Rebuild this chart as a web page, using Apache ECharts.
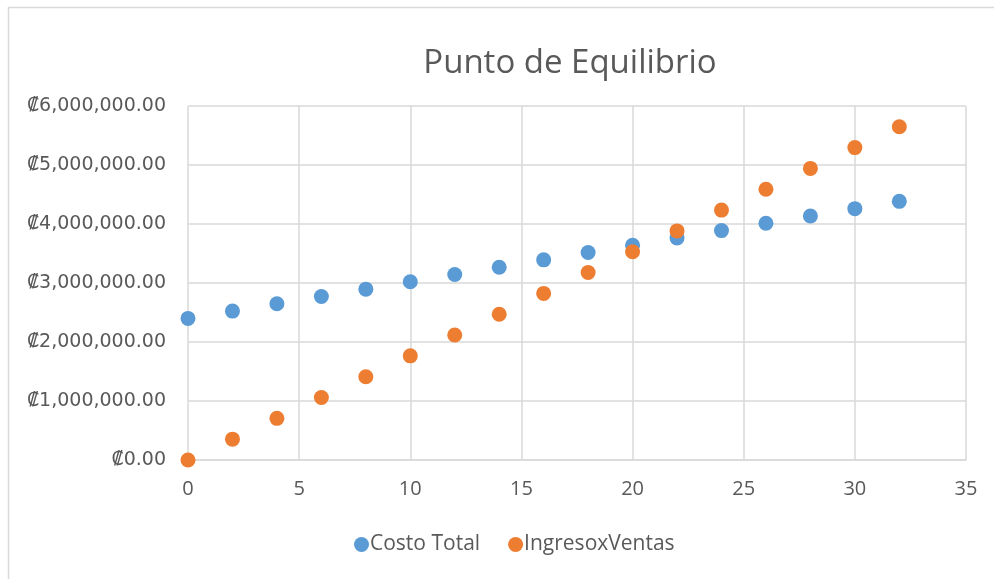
<!DOCTYPE html>
<html>
<head>
<meta charset="utf-8">
<title>Punto de Equilibrio</title>
<script src="https://cdn.jsdelivr.net/npm/echarts@6/dist/echarts.min.js"></script>
<style>
  html, body { margin: 0; padding: 0; background: #fff; }
  #chart { width: 994px; height: 579px; }
</style>
</head>
<body>
<div id="chart"></div>
<script>
// valores (unidades vs colones)
const unidades = [0, 2, 4, 6, 8, 10, 12, 14, 16, 18, 20, 22, 24, 26, 28, 30, 32]
const costoTotal = [2400000, 2524000, 2648000, 2772000, 2896000, 3020000, 3144000, 3268000, 3392000,
  3516000, 3640000, 3764000, 3888000, 4012000, 4136000, 4260000, 4384000]
const ingresosVentas = [0, 353000, 706000, 1059000, 1412000, 1765000, 2118000, 2471000, 2824000,
  3177000, 3530000, 3883000, 4236000, 4589000, 4942000, 5295000, 5648000]
const seriesNames = ['Costo Total', 'IngresoxVentas']

const gridColor = '#d9d9d9'
const textColor = '#595959'

function pairs(ys) {
  return unidades.map((x, i) => [x, ys[i]])
}

function colones(v) {
  return '₡' + v.toLocaleString('en-US', { minimumFractionDigits: 2, maximumFractionDigits: 2 })
}

const chart = echarts.init(document.getElementById('chart'), null, { renderer: 'canvas' })

chart.setOption({
  animation: false,
  backgroundColor: '#fff',
  title: {
    text: 'Punto de Equilibrio',
    left: 565,
    top: 42,
    textAlign: 'center',
    textStyle: {
      fontFamily: 'Open Sans',
      fontSize: 33,
      fontWeight: 'normal',
      color: textColor
    }
  },
  graphic: [
    {
      type: 'rect',
      silent: true,
      shape: { x: 8.5, y: 7.5, width: 1200, height: 800 },
      style: { fill: 'none', stroke: '#d9d9d9', lineWidth: 1.5 }
    }
  ],
  legend: {
    bottom: 19,
    left: 349,
    itemGap: 28,
    itemWidth: 15,
    itemHeight: 15,
    icon: 'circle',
    textStyle: { fontFamily: 'Open Sans', fontSize: 21, color: textColor, padding: [0, 0, 0, -4] },
    data: seriesNames
  },
  grid: {
    left: 188,
    right: 28,
    top: 106,
    bottom: 119
  },
  xAxis: {
    type: 'value',
    min: 0,
    max: 35,
    interval: 5,
    axisLine: { show: true, lineStyle: { color: gridColor, width: 1.5 } },
    axisTick: { show: false },
    splitLine: { show: true, lineStyle: { color: gridColor, width: 1.5 } },
    axisLabel: { fontFamily: 'Open Sans', fontSize: 20, color: textColor, margin: 19 }
  },
  yAxis: {
    type: 'value',
    min: 0,
    max: 6000000,
    interval: 1000000,
    axisLine: { show: false },
    axisTick: { show: false },
    splitLine: { show: true, lineStyle: { color: gridColor, width: 1.5 } },
    axisLabel: {
      fontFamily: 'DejaVu Sans',
      fontSize: 19,
      color: textColor,
      margin: 22,
      formatter: colones
    }
  },
  series: [
    {
      name: seriesNames[0],
      type: 'scatter',
      symbolSize: 15,
      itemStyle: { color: '#5b9bd5', opacity: 1 },
      data: pairs(costoTotal)
    },
    {
      name: seriesNames[1],
      type: 'scatter',
      symbolSize: 15,
      itemStyle: { color: '#ed7d31', opacity: 1 },
      data: pairs(ingresosVentas)
    }
  ]
})
</script>
</body>
</html>
